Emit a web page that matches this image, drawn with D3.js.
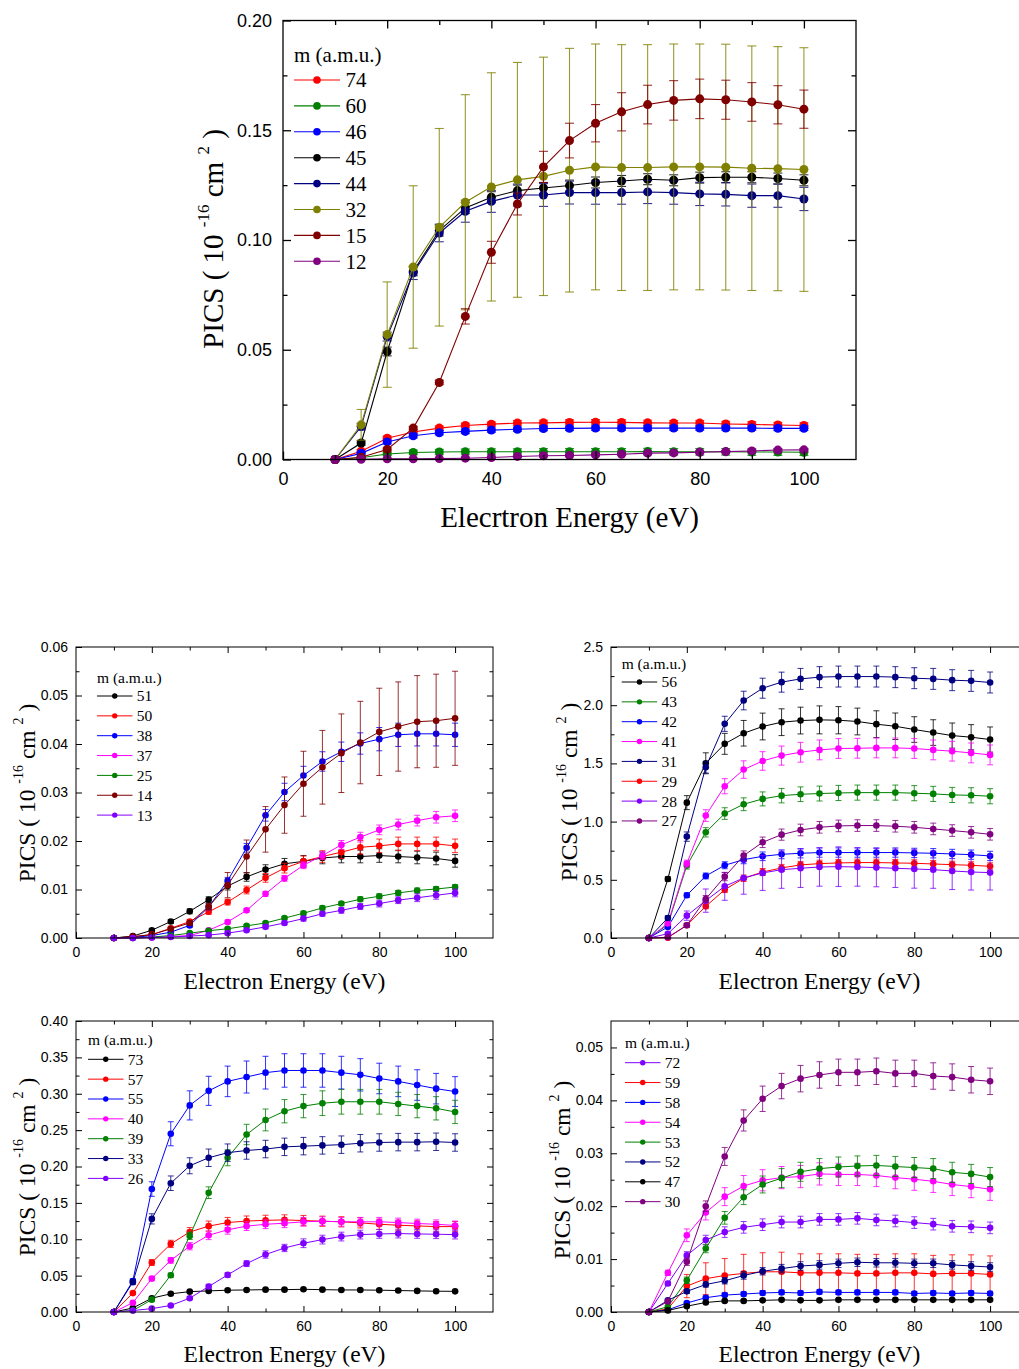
<!DOCTYPE html>
<html lang="en">
<head>
    <meta charset="UTF-8">
    <title>PICS vs Electron Energy</title>
    <style>
        body {
            margin: 0;
            padding: 0;
            background: #ffffff;
        }
        svg { display: block; }
        .tick text {
            font-family: "Liberation Sans", Arial, sans-serif;
            fill: #000;
        }
        .serif {
            font-family: "Liberation Serif", "Times New Roman", serif;
            fill: #000;
        }
    </style>
</head>
<body>
    <svg id="chart" width="1019" height="1369"></svg>

    <script src="https://cdnjs.cloudflare.com/ajax/libs/d3/7.8.5/d3.min.js"></script>
    <script>
        // Electron energies (eV), shared by every panel
        const energy = [10, 15, 20, 25, 30, 35, 40, 45, 50, 55, 60, 65, 70, 75, 80, 85, 90, 95, 100];
        const energyTicks = [0, 20, 40, 60, 80, 100];

        // ---- top panel ----
        const topYTicks = [0, 0.05, 0.10, 0.15, 0.20];
        const top74 = [0, 0.0038, 0.0097, 0.0125, 0.0143, 0.0155, 0.0161, 0.0166, 0.0167, 0.0169, 0.0170, 0.0169, 0.0167, 0.0166, 0.0166, 0.0162, 0.0160, 0.0157, 0.0155];
        const top74Err = [0, 0.0008, 0.001, 0.001, 0.001, 0.001, 0.001, 0.0012, 0.0012, 0.0012, 0.0012, 0.0012, 0.0012, 0.0012, 0.0012, 0.0012, 0.0012, 0.0012, 0.0012];
        const top60 = [0, 0.0008, 0.0025, 0.0032, 0.0034, 0.0035, 0.0035, 0.0035, 0.0035, 0.0035, 0.0035, 0.0035, 0.0036, 0.0035, 0.0035, 0.0035, 0.0034, 0.0034, 0.0033];
        const top60Err = [0, 0.0005, 0.0008, 0.001, 0.0012, 0.0013, 0.0014, 0.0014, 0.0015, 0.0015, 0.0015, 0.0015, 0.0015, 0.0015, 0.0015, 0.0015, 0.0015, 0.0015, 0.0015];
        const top46 = [0, 0.0028, 0.0080, 0.0108, 0.0122, 0.0128, 0.0134, 0.0138, 0.0141, 0.0142, 0.0143, 0.0143, 0.0143, 0.0143, 0.0143, 0.0143, 0.0143, 0.0142, 0.0142];
        const top46Err = [0, 0.0006, 0.0009, 0.001, 0.001, 0.001, 0.001, 0.001, 0.001, 0.001, 0.001, 0.001, 0.001, 0.001, 0.001, 0.001, 0.001, 0.001, 0.001];
        const top45 = [0, 0.0075, 0.0492, 0.0857, 0.1043, 0.1146, 0.1195, 0.1225, 0.1237, 0.1248, 0.1262, 0.1269, 0.1277, 0.1272, 0.1284, 0.1286, 0.1286, 0.1280, 0.1272];
        const top45Err = [0, 0.001, 0.002, 0.002, 0.0025, 0.0025, 0.0025, 0.0025, 0.0025, 0.0025, 0.0025, 0.0025, 0.0025, 0.0025, 0.0025, 0.0025, 0.0025, 0.0025, 0.0025];
        const top44 = [0, 0.0150, 0.0560, 0.0850, 0.1032, 0.1131, 0.1176, 0.1205, 0.1205, 0.1216, 0.1216, 0.1216, 0.1219, 0.1216, 0.1210, 0.1208, 0.1202, 0.1202, 0.1187];
        const top44Err = [0, 0.0015, 0.002, 0.003, 0.004, 0.005, 0.005, 0.005, 0.0052, 0.0052, 0.0053, 0.0053, 0.0053, 0.0053, 0.0053, 0.0053, 0.0053, 0.0053, 0.0053];
        const top32 = [0, 0.0158, 0.0569, 0.0877, 0.1058, 0.1172, 0.1242, 0.1274, 0.1290, 0.1318, 0.1333, 0.1330, 0.1330, 0.1333, 0.1333, 0.1332, 0.1327, 0.1325, 0.1321];
        const top32Err = [0, 0.007, 0.024, 0.037, 0.045, 0.049, 0.052, 0.0535, 0.0543, 0.0555, 0.056, 0.056, 0.056, 0.056, 0.056, 0.056, 0.0557, 0.0556, 0.0555];
        const top15 = [0, 0.0010, 0.0046, 0.0143, 0.0351, 0.0652, 0.0944, 0.1164, 0.1333, 0.1453, 0.1532, 0.1584, 0.1617, 0.1636, 0.1643, 0.1639, 0.1629, 0.1616, 0.1596];
        const top15Err = [0, 0.0005, 0.0007, 0.0008, 0.001, 0.0035, 0.005, 0.005, 0.0071, 0.0079, 0.0085, 0.0087, 0.0088, 0.009, 0.009, 0.0089, 0.0088, 0.0087, 0.0087];
        const top12 = [0, 0.0001, 0.0003, 0.0003, 0.0004, 0.0006, 0.0009, 0.0014, 0.0017, 0.0018, 0.0021, 0.0024, 0.0029, 0.0030, 0.0033, 0.0036, 0.0039, 0.0043, 0.0044];
        const top12Err = [0, 0.0002, 0.0003, 0.0003, 0.0003, 0.0004, 0.0004, 0.0004, 0.0005, 0.0005, 0.0005, 0.0005, 0.0005, 0.0005, 0.0005, 0.0005, 0.0005, 0.0005, 0.0005];

        // ---- panel 1 (middle left) ----
        const p1YTicks = [0, 0.01, 0.02, 0.03, 0.04, 0.05, 0.06];
        const p1m51 = [0, 0.0004, 0.0016, 0.0034, 0.0055, 0.0079, 0.0107, 0.0126, 0.0141, 0.0153, 0.0158, 0.0165, 0.0168, 0.0168, 0.0170, 0.0168, 0.0166, 0.0164, 0.0159];
        const p1m51Err = [0, 0.0002, 0.0003, 0.0004, 0.0005, 0.0006, 0.0008, 0.0009, 0.001, 0.0011, 0.0012, 0.0012, 0.0013, 0.0013, 0.0014, 0.0013, 0.0013, 0.0013, 0.0013];
        const p1m50 = [0, 0.0002, 0.0007, 0.0020, 0.0034, 0.0054, 0.0074, 0.0099, 0.0124, 0.0144, 0.0158, 0.0168, 0.0177, 0.0187, 0.0190, 0.0194, 0.0194, 0.0194, 0.0190];
        const p1m50Err = [0, 0.0001, 0.0002, 0.0003, 0.0004, 0.0005, 0.0006, 0.0008, 0.0009, 0.001, 0.0011, 0.0012, 0.0013, 0.0014, 0.0014, 0.0014, 0.0014, 0.0014, 0.0014];
        const p1m38 = [0, 0.0001, 0.0005, 0.0012, 0.0026, 0.0064, 0.0118, 0.0186, 0.0253, 0.0301, 0.0335, 0.0364, 0.0384, 0.0401, 0.0410, 0.0419, 0.0421, 0.0421, 0.0419];
        const p1m38Err = [0, 0.0001, 0.0002, 0.0003, 0.0004, 0.0006, 0.0007, 0.0009, 0.0012, 0.0018, 0.0019, 0.002, 0.002, 0.0022, 0.0024, 0.0024, 0.0025, 0.0025, 0.0024];
        const p1m37 = [0, 0, 0.0001, 0.0003, 0.0005, 0.0016, 0.0033, 0.0057, 0.0091, 0.0123, 0.0150, 0.0170, 0.0192, 0.0208, 0.0223, 0.0234, 0.0242, 0.0249, 0.0252];
        const p1m37Err = [0, 0, 0.0001, 0.0001, 0.0002, 0.0003, 0.0004, 0.0004, 0.0005, 0.0006, 0.0007, 0.0008, 0.0009, 0.001, 0.001, 0.0011, 0.0011, 0.0012, 0.0012];
        const p1m25 = [0, 0, 0.0002, 0.0005, 0.0010, 0.0015, 0.0019, 0.0025, 0.0031, 0.0041, 0.0051, 0.0062, 0.0071, 0.0080, 0.0086, 0.0093, 0.0098, 0.0101, 0.0105];
        const p1m25Err = [0, 0, 0.0001, 0.0001, 0.0002, 0.0002, 0.0002, 0.0003, 0.0003, 0.0003, 0.0004, 0.0004, 0.0004, 0.0005, 0.0005, 0.0005, 0.0005, 0.0005, 0.0005];
        const p1m14 = [0, 0.0003, 0.0007, 0.0019, 0.0031, 0.0065, 0.0109, 0.0168, 0.0224, 0.0274, 0.0318, 0.0352, 0.0381, 0.0403, 0.0425, 0.0436, 0.0446, 0.0448, 0.0453];
        const p1m14Err = [0, 0.0001, 0.0002, 0.0003, 0.0004, 0.0006, 0.0026, 0.0034, 0.0047, 0.0058, 0.0067, 0.0076, 0.0081, 0.0085, 0.009, 0.0092, 0.0095, 0.0096, 0.0097];
        const p1m13 = [0, 0, 0.0001, 0.0002, 0.0004, 0.0006, 0.0010, 0.0016, 0.0023, 0.0031, 0.0040, 0.0050, 0.0057, 0.0065, 0.0071, 0.0078, 0.0083, 0.0088, 0.0093];
        const p1m13Err = [0, 0, 0.0001, 0.0001, 0.0002, 0.0002, 0.0003, 0.0003, 0.0004, 0.0004, 0.0005, 0.0005, 0.0006, 0.0006, 0.0007, 0.0007, 0.0008, 0.0008, 0.0008];

        // ---- panel 2 (middle right) ----
        const p2YTicks = [0, 0.5, 1.0, 1.5, 2.0, 2.5];
        const p2m56 = [0, 0.507, 1.163, 1.501, 1.668, 1.759, 1.817, 1.854, 1.868, 1.874, 1.871, 1.860, 1.837, 1.819, 1.791, 1.765, 1.739, 1.725, 1.705];
        const p2m56Err = [0, 0.02, 0.06, 0.09, 0.09, 0.11, 0.115, 0.115, 0.115, 0.12, 0.117, 0.115, 0.115, 0.114, 0.11, 0.11, 0.108, 0.108, 0.108];
        const p2m43 = [0, 0.115, 0.622, 0.908, 1.069, 1.149, 1.195, 1.223, 1.235, 1.241, 1.246, 1.249, 1.249, 1.249, 1.244, 1.238, 1.229, 1.226, 1.218];
        const p2m43Err = [0, 0.01, 0.03, 0.04, 0.05, 0.055, 0.06, 0.062, 0.063, 0.064, 0.065, 0.065, 0.065, 0.065, 0.065, 0.065, 0.065, 0.065, 0.065];
        const p2m42 = [0, 0.095, 0.367, 0.533, 0.625, 0.673, 0.702, 0.719, 0.728, 0.734, 0.734, 0.734, 0.734, 0.734, 0.731, 0.728, 0.722, 0.716, 0.705];
        const p2m42Err = [0, 0.01, 0.02, 0.025, 0.03, 0.035, 0.037, 0.038, 0.04, 0.04, 0.04, 0.04, 0.04, 0.04, 0.04, 0.04, 0.04, 0.04, 0.04];
        const p2m41 = [0, 0.125, 0.639, 1.052, 1.304, 1.447, 1.521, 1.567, 1.596, 1.616, 1.628, 1.630, 1.633, 1.633, 1.628, 1.616, 1.605, 1.590, 1.573];
        const p2m41Err = [0, 0.01, 0.03, 0.05, 0.065, 0.075, 0.08, 0.082, 0.085, 0.085, 0.085, 0.085, 0.085, 0.085, 0.085, 0.085, 0.085, 0.085, 0.085];
        const p2m31 = [0, 0.172, 0.871, 1.467, 1.840, 2.040, 2.146, 2.198, 2.226, 2.241, 2.246, 2.246, 2.246, 2.241, 2.232, 2.226, 2.215, 2.209, 2.195];
        const p2m31Err = [0, 0.02, 0.04, 0.05, 0.065, 0.08, 0.086, 0.086, 0.09, 0.09, 0.09, 0.09, 0.09, 0.09, 0.09, 0.09, 0.09, 0.09, 0.09];
        const p2m29 = [0, 0.003, 0.109, 0.272, 0.415, 0.513, 0.567, 0.602, 0.628, 0.639, 0.645, 0.648, 0.648, 0.645, 0.642, 0.636, 0.630, 0.625, 0.616];
        const p2m29Err = [0, 0.005, 0.015, 0.02, 0.025, 0.028, 0.03, 0.03, 0.03, 0.03, 0.03, 0.03, 0.03, 0.03, 0.03, 0.03, 0.03, 0.03, 0.03];
        const p2m28 = [0, 0.037, 0.192, 0.321, 0.444, 0.516, 0.559, 0.587, 0.599, 0.610, 0.613, 0.610, 0.605, 0.599, 0.593, 0.587, 0.576, 0.567, 0.562];
        const p2m28Err = [0, 0.01, 0.04, 0.1, 0.12, 0.14, 0.15, 0.16, 0.165, 0.165, 0.17, 0.165, 0.165, 0.165, 0.165, 0.16, 0.16, 0.155, 0.15];
        const p2m27 = [0, 0.006, 0.109, 0.335, 0.527, 0.708, 0.822, 0.888, 0.928, 0.951, 0.963, 0.966, 0.966, 0.960, 0.951, 0.937, 0.923, 0.908, 0.891];
        const p2m27Err = [0, 0.005, 0.015, 0.03, 0.035, 0.04, 0.045, 0.048, 0.05, 0.05, 0.05, 0.05, 0.05, 0.05, 0.05, 0.05, 0.05, 0.05, 0.05];

        // ---- panel 3 (bottom left) ----
        const p3YTicks = [0, 0.05, 0.10, 0.15, 0.20, 0.25, 0.30, 0.35, 0.40];
        const p3m73 = [0, 0.0055, 0.019, 0.025, 0.028, 0.029, 0.030, 0.0303, 0.0307, 0.0307, 0.0312, 0.0307, 0.0303, 0.0303, 0.030, 0.0295, 0.029, 0.0286, 0.0284];
        const p3m73Err = [0, 0.001, 0.0015, 0.0015, 0.0015, 0.0015, 0.0015, 0.0015, 0.0015, 0.0015, 0.0015, 0.0015, 0.0015, 0.0015, 0.0015, 0.0015, 0.0015, 0.0015, 0.0015];
        const p3m57 = [0, 0.026, 0.068, 0.0936, 0.110, 0.118, 0.123, 0.125, 0.126, 0.1266, 0.1257, 0.1248, 0.124, 0.1225, 0.1206, 0.1193, 0.1183, 0.1174, 0.1174];
        const p3m57Err = [0, 0.002, 0.004, 0.005, 0.006, 0.007, 0.007, 0.007, 0.007, 0.007, 0.007, 0.007, 0.007, 0.007, 0.007, 0.007, 0.007, 0.007, 0.007];
        const p3m55 = [0, 0.0427, 0.169, 0.245, 0.284, 0.304, 0.317, 0.323, 0.329, 0.332, 0.332, 0.332, 0.329, 0.326, 0.321, 0.317, 0.312, 0.307, 0.303];
        const p3m55Err = [0, 0.003, 0.01, 0.0165, 0.02, 0.02, 0.021, 0.022, 0.0225, 0.023, 0.023, 0.023, 0.0225, 0.0222, 0.021, 0.021, 0.021, 0.021, 0.0205];
        const p3m40 = [0, 0.0128, 0.0459, 0.071, 0.0904, 0.1055, 0.113, 0.118, 0.1206, 0.122, 0.124, 0.1248, 0.124, 0.124, 0.124, 0.123, 0.1216, 0.1206, 0.119];
        const p3m40Err = [0, 0.001, 0.003, 0.004, 0.005, 0.006, 0.006, 0.006, 0.006, 0.006, 0.006, 0.006, 0.006, 0.006, 0.006, 0.006, 0.006, 0.006, 0.006];
        const p3m39 = [0, 0.002, 0.017, 0.0505, 0.1046, 0.164, 0.212, 0.244, 0.264, 0.276, 0.283, 0.287, 0.289, 0.289, 0.289, 0.286, 0.283, 0.280, 0.275];
        const p3m39Err = [0, 0.001, 0.002, 0.003, 0.005, 0.008, 0.011, 0.014, 0.015, 0.016, 0.016, 0.017, 0.017, 0.017, 0.017, 0.016, 0.016, 0.016, 0.016];
        const p3m33 = [0, 0.041, 0.128, 0.177, 0.201, 0.212, 0.219, 0.222, 0.224, 0.227, 0.228, 0.229, 0.230, 0.232, 0.233, 0.2335, 0.2335, 0.234, 0.233];
        const p3m33Err = [0, 0.003, 0.007, 0.01, 0.011, 0.012, 0.012, 0.012, 0.012, 0.012, 0.012, 0.012, 0.012, 0.012, 0.012, 0.012, 0.012, 0.012, 0.012];
        const p3m26 = [0, 0.002, 0.0046, 0.009, 0.019, 0.035, 0.051, 0.0665, 0.079, 0.088, 0.0945, 0.0995, 0.1037, 0.1064, 0.1073, 0.1078, 0.1073, 0.1069, 0.1064];
        const p3m26Err = [0, 0.0005, 0.001, 0.0015, 0.002, 0.003, 0.003, 0.004, 0.005, 0.005, 0.006, 0.006, 0.006, 0.006, 0.006, 0.006, 0.006, 0.006, 0.006];

        // ---- panel 4 (bottom right) ----
        const p4YTicks = [0, 0.01, 0.02, 0.03, 0.04, 0.05];
        const p4m72 = [0, 0.0054, 0.0107, 0.0136, 0.0151, 0.0160, 0.0165, 0.0170, 0.0170, 0.0175, 0.0175, 0.0177, 0.0174, 0.0172, 0.0169, 0.0166, 0.0162, 0.0161, 0.0159];
        const p4m72Err = [0, 0.0004, 0.0007, 0.0009, 0.001, 0.0011, 0.0011, 0.0011, 0.0011, 0.0011, 0.0011, 0.0011, 0.0011, 0.0011, 0.0011, 0.0011, 0.0011, 0.0011, 0.0011];
        const p4m59 = [0, 0.0006, 0.0049, 0.0063, 0.0069, 0.0073, 0.0076, 0.0076, 0.0074, 0.0074, 0.0074, 0.0073, 0.0073, 0.0074, 0.0074, 0.0072, 0.0073, 0.0073, 0.0071];
        const p4m59Err = [0, 0.0003, 0.0022, 0.003, 0.0032, 0.0036, 0.0036, 0.0037, 0.0036, 0.0036, 0.0036, 0.0036, 0.0036, 0.0036, 0.0036, 0.0035, 0.0035, 0.0035, 0.0035];
        const p4m58 = [0, 0.0004, 0.0017, 0.0027, 0.0032, 0.0034, 0.0036, 0.0037, 0.0036, 0.0038, 0.0037, 0.0037, 0.0037, 0.0037, 0.0035, 0.0036, 0.0035, 0.0036, 0.0035];
        const p4m58Err = [0, 0.0001, 0.0002, 0.0003, 0.0003, 0.0004, 0.0004, 0.0004, 0.0004, 0.0004, 0.0004, 0.0004, 0.0004, 0.0004, 0.0004, 0.0004, 0.0004, 0.0004, 0.0004];
        const p4m54 = [0, 0.0074, 0.0145, 0.0188, 0.0218, 0.0238, 0.0249, 0.0254, 0.0256, 0.0261, 0.0260, 0.0260, 0.0258, 0.0254, 0.0251, 0.0247, 0.0241, 0.0237, 0.0232];
        const p4m54Err = [0, 0.0005, 0.0012, 0.0014, 0.0017, 0.002, 0.002, 0.0021, 0.0021, 0.0021, 0.0021, 0.0021, 0.0021, 0.0021, 0.0021, 0.0021, 0.0021, 0.0021, 0.0021];
        const p4m53 = [0, 0.0010, 0.0060, 0.0120, 0.0178, 0.0217, 0.0241, 0.0253, 0.0265, 0.0271, 0.0274, 0.0276, 0.0277, 0.0275, 0.0273, 0.0271, 0.0264, 0.0261, 0.0255];
        const p4m53Err = [0, 0.0003, 0.0006, 0.0008, 0.0012, 0.0014, 0.0016, 0.0018, 0.0018, 0.0019, 0.0019, 0.0019, 0.0019, 0.0019, 0.0019, 0.0019, 0.0019, 0.0018, 0.0018];
        const p4m52 = [0, 0.0022, 0.0039, 0.0052, 0.0059, 0.0069, 0.0077, 0.0082, 0.0087, 0.0089, 0.0092, 0.0094, 0.0093, 0.0093, 0.0092, 0.0092, 0.0089, 0.0087, 0.0085];
        const p4m52Err = [0, 0.0002, 0.0004, 0.0005, 0.0006, 0.0007, 0.0007, 0.0008, 0.0008, 0.0008, 0.0008, 0.0008, 0.0008, 0.0008, 0.0008, 0.0008, 0.0008, 0.0008, 0.0008];
        const p4m47 = [0, 0.0003, 0.0011, 0.0018, 0.0021, 0.0021, 0.0022, 0.0023, 0.0022, 0.0022, 0.0023, 0.0023, 0.0023, 0.0023, 0.0023, 0.0023, 0.0023, 0.0023, 0.0023];
        const p4m47Err = [0, 0.0001, 0.0002, 0.0002, 0.0002, 0.0002, 0.0002, 0.0002, 0.0002, 0.0002, 0.0002, 0.0002, 0.0002, 0.0002, 0.0002, 0.0002, 0.0002, 0.0002, 0.0002];
        const p4m30 = [0, 0.0020, 0.0095, 0.0200, 0.0294, 0.0362, 0.0403, 0.0427, 0.0441, 0.0448, 0.0453, 0.0453, 0.0455, 0.0451, 0.0451, 0.0446, 0.0444, 0.0439, 0.0436];
        const p4m30Err = [0, 0.0003, 0.0007, 0.001, 0.0017, 0.002, 0.0024, 0.0024, 0.0025, 0.0025, 0.0025, 0.0025, 0.0025, 0.0025, 0.0025, 0.0025, 0.0025, 0.0025, 0.0025];

        // Origin-style colours
        const C = {
            red: '#ff0000', green: '#008000', blue: '#0000ff', black: '#000000',
            navy: '#000080', olive: '#808000', wine: '#800000', purple: '#800080',
            magenta: '#ff00ff', violet: '#8000ff'
        };

        const svg = d3.select('#chart');

        const big = { tickFont: 18, pad: 11, xPad: 12.5, major: 8, minor: 4.5, r: 4.5, legR: 3.8, cap: 4.5,
                      lw: 1.1, frameW: 1.3, titleFont: 29, legFont: 21, legRow: 25.9, legLine: 46 };
        const small = { tickFont: 14, pad: 8, xPad: 8.8, major: 6, minor: 3.5, r: 3.3, legR: 2.7, cap: 3,
                        lw: 1, frameW: 1, titleFont: 23.5, legFont: 15.5, legRow: 19.85, legLine: 35.5 };

        const panels = [
            { s: big, left: 283, right: 856, top: 20.5, bottom: 459.5, yMax: 0.20, yTicks: topYTicks, yMinor: 0.025, fmt: '.2f',
              xTitle: 'Elecrtron Energy (eV)', xTitleY: 527, yTitleX: 223, yTitleY: 239,
              legX: 294, legY: 55, legFirst: 80,
              series: [
                  { label: '74', color: C.red, v: top74, e: top74Err },
                  { label: '60', color: C.green, v: top60, e: top60Err },
                  { label: '46', color: C.blue, v: top46, e: top46Err },
                  { label: '45', color: C.black, v: top45, e: top45Err },
                  { label: '44', color: C.navy, v: top44, e: top44Err },
                  { label: '32', color: C.olive, v: top32, e: top32Err },
                  { label: '15', color: C.wine, v: top15, e: top15Err },
                  { label: '12', color: C.purple, v: top12, e: top12Err }
              ] },
            { s: small, left: 76, right: 493, top: 647, bottom: 938, yMax: 0.06, yTicks: p1YTicks, yMinor: 0.005, fmt: '.2f',
              xTitle: 'Electron Energy (eV)', xTitleY: 988.5, yTitleX: 34.5, yTitleY: 793,
              legX: 97, legY: 677.7, legFirst: 696,
              series: [
                  { label: '51', color: C.black, v: p1m51, e: p1m51Err },
                  { label: '50', color: C.red, v: p1m50, e: p1m50Err },
                  { label: '38', color: C.blue, v: p1m38, e: p1m38Err },
                  { label: '37', color: C.magenta, v: p1m37, e: p1m37Err },
                  { label: '25', color: C.green, v: p1m25, e: p1m25Err },
                  { label: '14', color: C.wine, v: p1m14, e: p1m14Err },
                  { label: '13', color: C.violet, v: p1m13, e: p1m13Err }
              ] },
            { s: small, left: 611, right: 1028, top: 647, bottom: 938, yMax: 2.5, yTicks: p2YTicks, yMinor: 0.25, fmt: '.1f',
              xTitle: 'Electron Energy (eV)', xTitleY: 988.5, yTitleX: 577, yTitleY: 792,
              legX: 621.7, legY: 664, legFirst: 682,
              series: [
                  { label: '56', color: C.black, v: p2m56, e: p2m56Err },
                  { label: '43', color: C.green, v: p2m43, e: p2m43Err },
                  { label: '42', color: C.blue, v: p2m42, e: p2m42Err },
                  { label: '41', color: C.magenta, v: p2m41, e: p2m41Err },
                  { label: '31', color: C.navy, v: p2m31, e: p2m31Err },
                  { label: '29', color: C.red, v: p2m29, e: p2m29Err },
                  { label: '28', color: C.violet, v: p2m28, e: p2m28Err },
                  { label: '27', color: C.purple, v: p2m27, e: p2m27Err }
              ] },
            { s: small, left: 76, right: 493, top: 1021, bottom: 1312, yMax: 0.40, yTicks: p3YTicks, yMinor: 0.025, fmt: '.2f',
              xTitle: 'Electron Energy (eV)', xTitleY: 1362, yTitleX: 34.5, yTitleY: 1167,
              legX: 88, legY: 1040, legFirst: 1059.3,
              series: [
                  { label: '73', color: C.black, v: p3m73, e: p3m73Err },
                  { label: '57', color: C.red, v: p3m57, e: p3m57Err },
                  { label: '55', color: C.blue, v: p3m55, e: p3m55Err },
                  { label: '40', color: C.magenta, v: p3m40, e: p3m40Err },
                  { label: '39', color: C.green, v: p3m39, e: p3m39Err },
                  { label: '33', color: C.navy, v: p3m33, e: p3m33Err },
                  { label: '26', color: C.violet, v: p3m26, e: p3m26Err }
              ] },
            { s: small, left: 611, right: 1028, top: 1021, bottom: 1312, yMax: 0.055, yTicks: p4YTicks, yMinor: 0.005, fmt: '.2f',
              xTitle: 'Electron Energy (eV)', xTitleY: 1362, yTitleX: 570, yTitleY: 1170,
              legX: 625, legY: 1043.3, legFirst: 1062.7,
              series: [
                  { label: '72', color: C.violet, v: p4m72, e: p4m72Err },
                  { label: '59', color: C.red, v: p4m59, e: p4m59Err },
                  { label: '58', color: C.blue, v: p4m58, e: p4m58Err },
                  { label: '54', color: C.magenta, v: p4m54, e: p4m54Err },
                  { label: '53', color: C.green, v: p4m53, e: p4m53Err },
                  { label: '52', color: C.navy, v: p4m52, e: p4m52Err },
                  { label: '47', color: C.black, v: p4m47, e: p4m47Err },
                  { label: '30', color: C.purple, v: p4m30, e: p4m30Err }
              ] }
        ];

        function drawPanel(p) {
            const s = p.s;
            const x = d3.scaleLinear().domain([0, 110]).range([p.left, p.right]);
            const y = d3.scaleLinear().domain([0, p.yMax]).range([p.bottom, p.top]);
            const g = svg.append('g');

            // data: line, error bars, symbols for each series in legend order
            p.series.forEach(ser => {
                const pts = energy.map((en, i) => ({ en, v: ser.v[i], e: ser.e[i] }));

                g.append('path')
                    .datum(pts)
                    .attr('fill', 'none')
                    .attr('stroke', ser.color)
                    .attr('stroke-width', s.lw)
                    .attr('d', d3.line().x(d => x(d.en)).y(d => y(d.v)));

                const eb = g.append('g')
                    .attr('stroke', ser.color)
                    .attr('stroke-opacity', 0.8)
                    .attr('stroke-width', s.lw);
                pts.filter(d => d.e > 0).forEach(d => {
                    const cx = x(d.en), y1 = y(d.v + d.e), y2 = y(d.v - d.e);
                    eb.append('line').attr('x1', cx).attr('x2', cx).attr('y1', y1).attr('y2', y2);
                    eb.append('line').attr('x1', cx - s.cap).attr('x2', cx + s.cap).attr('y1', y1).attr('y2', y1);
                    eb.append('line').attr('x1', cx - s.cap).attr('x2', cx + s.cap).attr('y1', y2).attr('y2', y2);
                });

                g.append('g').selectAll('circle')
                    .data(pts)
                    .enter()
                    .append('circle')
                    .attr('cx', d => x(d.en))
                    .attr('cy', d => y(d.v))
                    .attr('r', s.r)
                    .attr('fill', ser.color);
            });

            // axes, ticks pointing inward on all four sides
            const yMinorTicks = d3.range(p.yMinor, p.yMax, p.yMinor * 2);
            const xMinorTicks = [10, 30, 50, 70, 90];
            const styleAxis = sel => {
                sel.select('.domain').remove();
                sel.selectAll('.tick line').attr('stroke', '#000').attr('stroke-width', s.frameW);
                sel.selectAll('.tick text').style('font-size', s.tickFont + 'px');
            };

            g.append('g').call(d3.axisLeft(y).tickValues(p.yTicks).tickSize(-s.major).tickPadding(s.pad).tickFormat(d3.format(p.fmt)))
                .attr('transform', `translate(${p.left},0)`).call(styleAxis);
            g.append('g').call(d3.axisLeft(y).tickValues(yMinorTicks).tickSize(-s.minor).tickFormat(''))
                .attr('transform', `translate(${p.left},0)`).call(styleAxis);
            g.append('g').call(d3.axisRight(y).tickValues(p.yTicks.filter(t => t > 0 && t < p.yMax)).tickSize(-s.major).tickFormat(''))
                .attr('transform', `translate(${p.right},0)`).call(styleAxis);
            g.append('g').call(d3.axisRight(y).tickValues(yMinorTicks).tickSize(-s.minor).tickFormat(''))
                .attr('transform', `translate(${p.right},0)`).call(styleAxis);
            g.append('g').call(d3.axisBottom(x).tickValues(energyTicks).tickSize(-s.major).tickPadding(s.xPad).tickFormat(d3.format('d')))
                .attr('transform', `translate(0,${p.bottom})`).call(styleAxis);
            g.append('g').call(d3.axisBottom(x).tickValues(xMinorTicks).tickSize(-s.minor).tickFormat(''))
                .attr('transform', `translate(0,${p.bottom})`).call(styleAxis);
            g.append('g').call(d3.axisTop(x).tickValues(energyTicks.filter(t => t > 0)).tickSize(-s.major).tickFormat(''))
                .attr('transform', `translate(0,${p.top})`).call(styleAxis);
            g.append('g').call(d3.axisTop(x).tickValues(xMinorTicks).tickSize(-s.minor).tickFormat(''))
                .attr('transform', `translate(0,${p.top})`).call(styleAxis);

            g.append('rect')
                .attr('x', p.left).attr('y', p.top)
                .attr('width', p.right - p.left).attr('height', p.bottom - p.top)
                .attr('fill', 'none').attr('stroke', '#000').attr('stroke-width', s.frameW);

            // axis titles
            g.append('text')
                .attr('class', 'serif')
                .attr('x', (p.left + p.right) / 2)
                .attr('y', p.xTitleY)
                .attr('text-anchor', 'middle')
                .style('font-size', s.titleFont + 'px')
                .text(p.xTitle);

            const sup = Math.round(s.titleFont * 0.6);
            const raise = s.titleFont * 0.48;
            const yt = g.append('text')
                .attr('class', 'serif')
                .attr('text-anchor', 'middle')
                .attr('transform', `translate(${p.yTitleX},${p.yTitleY}) rotate(-90)`)
                .style('font-size', s.titleFont + 'px');
            yt.append('tspan').text('PICS ( 10 ');
            yt.append('tspan').attr('dy', -raise).style('font-size', sup + 'px').text('-16');
            yt.append('tspan').attr('dy', raise).text(' cm ');
            yt.append('tspan').attr('dy', -raise).style('font-size', sup + 'px').text('2');
            yt.append('tspan').attr('dy', raise).text(' )');

            // legend
            const leg = g.append('g');
            leg.append('text')
                .attr('class', 'serif')
                .attr('x', p.legX)
                .attr('y', p.legY)
                .attr('dy', '0.33em')
                .style('font-size', s.legFont + 'px')
                .text('m (a.m.u.)');
            p.series.forEach((ser, i) => {
                const ly = p.legFirst + i * s.legRow;
                leg.append('line')
                    .attr('x1', p.legX).attr('x2', p.legX + s.legLine)
                    .attr('y1', ly).attr('y2', ly)
                    .attr('stroke', ser.color).attr('stroke-width', s.lw);
                leg.append('circle')
                    .attr('cx', p.legX + s.legLine / 2).attr('cy', ly)
                    .attr('r', s.legR).attr('fill', ser.color);
                leg.append('text')
                    .attr('class', 'serif')
                    .attr('x', p.legX + s.legLine + s.legLine * 0.12)
                    .attr('y', ly)
                    .attr('dy', '0.35em')
                    .style('font-size', s.legFont + 'px')
                    .text(ser.label);
            });
        }

        panels.forEach(drawPanel);
    </script>
</body>
</html>
